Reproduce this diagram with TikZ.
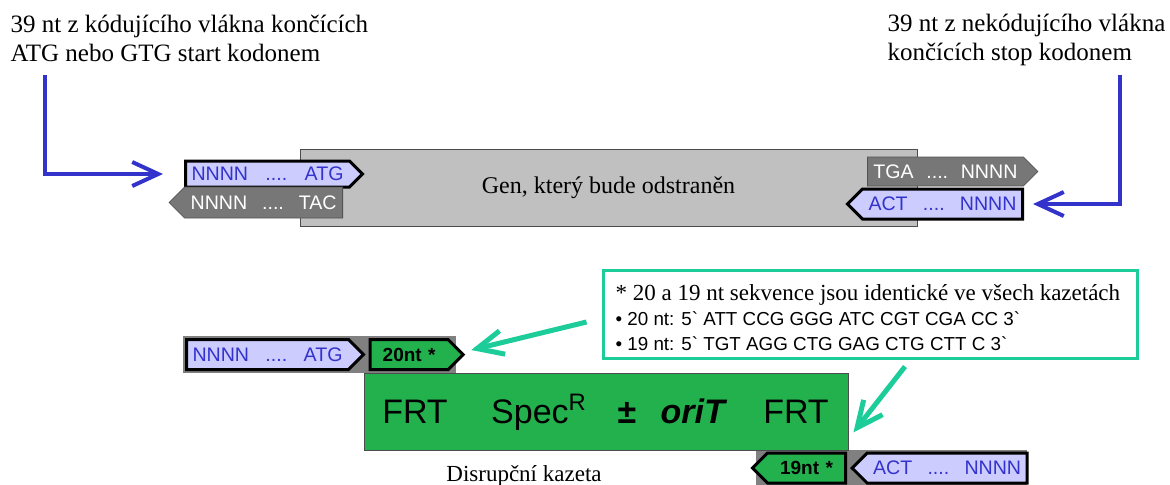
\documentclass[tikz,border=0pt]{standalone}
\usepackage{fontspec}
\setmainfont{Liberation Serif}
\setsansfont{Liberation Sans}
\usepackage{tikz}
\usetikzlibrary{arrows.meta,shapes.symbols,positioning}

\definecolor{lilac}{RGB}{204,204,255}
\definecolor{nblue}{RGB}{51,51,204}
\definecolor{stranddark}{RGB}{119,119,119}
\definecolor{genegray}{RGB}{192,192,192}
\definecolor{bggray}{RGB}{128,128,128}
\definecolor{cassgreen}{RGB}{35,177,77}
\definecolor{notec}{RGB}{28,204,153}

\begin{document}
\begin{tikzpicture}[
          x = 0.5pt, y = -0.5pt, % one unit is one pixel, y runs down
          > = {Straight Barb[length=13pt,width=12pt]}, % arrow head style
          semithick % line style
          ]

          \tikzset{
          strand/.style = {signal, signal pointer angle=90,
            inner xsep=3pt, inner ysep=0pt,
            font=\sffamily\fontsize{9.8}{11}\selectfont},
          sense/.style = {strand, fill=lilac, draw=black,
            line width=1.5pt, text=nblue},
          anti/.style = {strand, fill=stranddark,
            draw=stranddark!70!black, thin, text=white},
          ntbox/.style = {strand, fill=cassgreen, draw=black,
            line width=1.5pt, align=center,
            font=\sffamily\bfseries\fontsize{9.5}{11}\selectfont},
          toptext/.style = {align=left, inner sep=0pt, anchor=north west,
            font=\fontsize{12.5}{14.5}\selectfont},
          casstext/.style = {anchor=base, inner sep=0pt,
            font=\sffamily\fontsize{17}{20}\selectfont},
          notetext/.style = {anchor=base west, inner sep=0pt},
          bluearrow/.style = {->, draw=nblue, line width=2pt},
          tealarrow/.style = {->, draw=notec, line width=2.5pt}
          }

          \useasboundingbox (0,0) rectangle (1170,484);

          % texts on top
          \node[toptext] (lblL) at (10,14)
            {39 nt z kódujícího vlákna končících\\ATG nebo GTG start kodonem};
          \node[toptext] (lblR) at (887,14)
            {39 nt z nekódujícího vlákna\\končících stop kodonem};

          % gene
          \node[draw=gray!60!black, thin, fill=genegray,
            minimum width=308.5pt, minimum height=38.5pt,
            font=\fontsize{12}{14}\selectfont] (gen) at (608.5,187.5)
            {Gen, který bude odstraněn};

          \node[sense, signal to=east, text width=76pt, minimum height=13pt,
            anchor=west] (atgA) at (184,174) {NNNN\hfill....\hfill ATG};
          \node[anti, signal to=west, text width=73pt, minimum height=15.5pt,
            anchor=east] (tacA) at (343,202.5) {NNNN\hfill....\hfill TAC};
          \node[anti, signal to=east, text width=72pt, minimum height=14.5pt,
            anchor=west] (tgaB) at (867,171.5) {TGA\hfill....\hfill NNNN};
          \node[sense, signal to=west, text width=74pt, minimum height=15pt,
            anchor=east] (actB) at (1024,204) {ACT\hfill....\hfill NNNN};

          \coordinate (startL) at (45,75);
          \coordinate (startR) at (1120,75);
          \draw[bluearrow] (startL) |- ([xshift=-10.5pt]atgA.west);
          \draw[bluearrow] (startR) |- ([xshift=4.5pt]actB.east);

          % cassette
          \fill[bggray] (183,336) rectangle (456,373);
          \fill[bggray] (756,450) rectangle (1027,490);

          \node[draw=gray!60!black, thin, fill=cassgreen,
            minimum width=242pt, minimum height=38.5pt] (cass) at (606,411.5) {};
          \node[casstext] (frtA) at (415,423) {FRT};
          \node[casstext] (spec) at (539,423) {Spec\textsuperscript{R}};
          \node[casstext] (pm) at (627,423) {\textbf{±}};
          \node[casstext] (ori) at (694,423) {\textbf{\textit{oriT}}};
          \node[casstext] (frtB) at (796,423) {FRT};

          \node[sense, signal to=east, text width=75pt, minimum height=15pt,
            anchor=west] (atgC) at (185,354.5) {NNNN\hfill....\hfill ATG};
          \node[ntbox, signal to=east, text width=33pt, minimum height=15pt,
            right=1.5pt of atgC] (nt20) {20nt *};

          \node[ntbox, signal to=west, text width=33pt, minimum height=15pt,
            anchor=east] (nt19) at (847,468) {19nt *};
          \node[sense, signal to=west, text width=74pt, minimum height=15pt,
            right=1.5pt of nt19] (actC) {ACT\hfill....\hfill NNNN};

          \node[anchor=base, inner sep=0pt, font=\fontsize{11.5}{13}\selectfont]
            (kaz) at (524,481) {Disrupční kazeta};

          % note
          \node[draw=notec, line width=1.5pt, fill=white,
            minimum width=267pt, minimum height=44pt] (note) at (870,314) {};
          \node[notetext, font=\fontsize{11.5}{13}\selectfont] (n1) at (615,300)
            {* 20 a 19 nt sekvence jsou identické ve všech kazetách};
          \node[notetext, font=\sffamily\fontsize{9.4}{11}\selectfont] (n2) at (615,325)
            {• 20 nt: 5\textasciigrave{} ATT CCG GGG ATC CGT CGA CC 3\textasciigrave};
          \node[notetext, font=\sffamily\fontsize{9.4}{11}\selectfont] (n3) at (615,350)
            {• 19 nt: 5\textasciigrave{} TGT AGG CTG GAG CTG CTT C 3\textasciigrave};

          \draw[tealarrow] ([xshift=-7.5pt,yshift=-4pt]note.west)
            -- ([xshift=3pt,yshift=2.25pt]nt20.east);
          \draw[tealarrow] ([xshift=17.5pt,yshift=-3.5pt]note.south)
            -- ([xshift=2.5pt,yshift=9pt]cass.south east);

        \end{tikzpicture}
\end{document}
